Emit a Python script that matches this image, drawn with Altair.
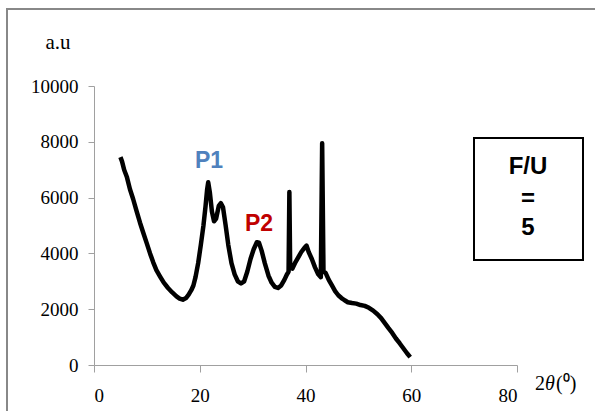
import altair as alt
import pandas as pd

two_theta = [5.0, 5.3, 5.7, 6.2, 6.8, 7.4, 8.0, 8.7, 9.3, 10.0, 10.6, 11.2, 11.8, 12.5, 13.2,
             14.0, 14.8, 15.6, 16.2, 16.8, 17.4, 17.9, 18.4, 18.8, 19.2, 19.7, 20.2, 20.7, 21.1,
             21.4, 21.6, 21.9, 22.3, 22.7, 23.1, 23.6, 24.0, 24.4, 24.9, 25.4, 26.0, 26.6, 27.2,
             27.8, 28.4, 29.0, 29.6, 30.2, 30.8, 31.2, 31.7, 32.3, 33.0, 33.6, 34.2, 34.8, 35.4,
             36.0, 36.5, 36.8, 36.95, 37.1, 37.5, 38.0, 38.6, 39.2, 39.8, 40.2, 40.6, 41.2, 41.8,
             42.4, 42.9, 43.15, 43.4, 43.8, 44.4, 45.0, 45.6, 46.2, 46.8, 47.4, 48.0, 48.8, 49.6,
             50.4, 51.2, 52.0, 52.8, 53.6, 54.3, 55.0, 55.7, 56.4, 57.1, 57.8, 58.5, 59.2, 59.8]
intensity = [7450, 7300, 7000, 6750, 6300, 5950, 5550, 5100, 4750, 4350, 4000, 3680, 3400, 3170, 2950,
             2760, 2600, 2460, 2380, 2340, 2400, 2520, 2680, 2850, 3150, 3650, 4300, 5000, 5700,
             6300, 6550, 6200, 5500, 5150, 5250, 5700, 5800, 5650, 5000, 4300, 3650, 3250, 3000,
             2920, 3000, 3350, 3800, 4150, 4400, 4380, 4100, 3650, 3200, 2950, 2800, 2760, 2850,
             3050, 3250, 3350, 6200, 3500, 3450, 3650, 3850, 4050, 4200, 4280, 4050, 3800, 3500,
             3250, 3150, 7950, 3350, 3300, 3050, 2850, 2650, 2500, 2400, 2320, 2250, 2220, 2200,
             2150, 2120, 2050, 1950, 1820, 1680, 1500, 1320, 1150, 950, 780, 600, 420, 280]

x_ticks = [0, 20, 40, 60, 80]
y_ticks = [0, 2000, 4000, 6000, 8000, 10000]

df = pd.DataFrame({"tt": two_theta, "I": intensity})

AX = "#a0a0a0"
SERIF = "Liberation Serif"

line = alt.Chart(df).mark_line(color="black", strokeWidth=4.5, strokeJoin="round").encode(
    x=alt.X("tt:Q", scale=alt.Scale(domain=[0, 80], nice=False),
            axis=alt.Axis(values=x_ticks, title=None, grid=False, domainColor=AX, tickColor=AX,
                          tickSize=7, labelFont=SERIF, labelFontSize=19, labelColor="black",
                          labelPadding=14)),
    y=alt.Y("I:Q", scale=alt.Scale(domain=[0, 10000], nice=False),
            axis=alt.Axis(values=y_ticks, title=None, grid=False, domainColor=AX, tickColor=AX,
                          tickSize=6, labelFont=SERIF, labelFontSize=19, labelColor="black",
                          labelPadding=10, format="d")),
)

one = pd.DataFrame({"k": [0]})

def txt(text, px, py, size, color="black", font=SERIF, weight="normal", align="center", style="normal"):
    return alt.Chart(one).mark_text(text=text, font=font, fontSize=size, color=color,
                                    fontWeight=weight, align=align, baseline="middle",
                                    fontStyle=style).encode(
        x=alt.value(px - 94), y=alt.value(py - 86))

border = alt.Chart(one).mark_rect(fill=None, stroke="#888888", strokeWidth=2).encode(
    x=alt.value(7 - 94), y=alt.value(9 - 86), x2=alt.value(610 - 94), y2=alt.value(430 - 86))

box = alt.Chart(one).mark_rect(fill="white", stroke="black", strokeWidth=2).encode(
    x=alt.value(474 - 94), y=alt.value(138 - 86), x2=alt.value(583 - 94), y2=alt.value(260 - 86))

layers = [
    border,
    line,
    txt("a.u", 58, 43, 21),
    txt("2", 535, 384, 20, align="left"),
    txt("θ", 545, 384, 20, align="left", style="italic"),
    txt("(⁰)", 556, 384, 20, align="left"),
    txt("P1", 209, 161, 23, color="#4f81bd", font="Liberation Sans", weight="bold"),
    txt("P2", 259, 224, 23, color="#c00000", font="Liberation Sans", weight="bold"),
    box,
    txt("F/U", 528, 167, 24, font="Liberation Sans", weight="bold"),
    txt("=", 528, 199, 24, font="Liberation Sans", weight="bold"),
    txt("5", 528, 228, 24, font="Liberation Sans", weight="bold"),
]

chart = alt.layer(*layers).properties(
    width=423, height=279,
    padding={"left": 94, "top": 86, "right": 78, "bottom": 46},
    autosize=alt.AutoSizeParams(type="none"),
    background="white",
).configure_view(stroke=None)

chart.save("out.html", embed_options={"renderer": "svg", "actions": False})
